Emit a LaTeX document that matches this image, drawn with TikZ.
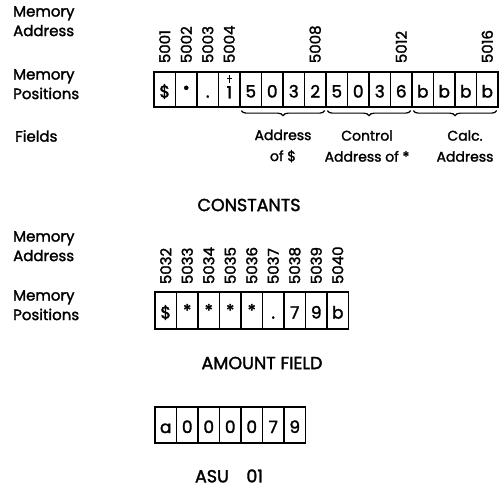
\documentclass[tikz,border=0pt]{standalone}
\usepackage{fontspec}
\setmainfont{Poppins}[FakeBold=1.8]
\usetikzlibrary{decorations.pathreplacing}
\begin{document}
\begin{tikzpicture}[x=1pt,y=-1pt,
  cell/.style={draw, line width=1.3pt, minimum width=21.5pt, minimum height=35pt, inner sep=0pt, text height=16pt, text depth=0pt, font=\fontsize{17}{17}\selectfont},
  addr/.style={rotate=90, anchor=west, inner sep=0pt, font=\fontsize{15}{15}\selectfont},
  lbl/.style={align=left, anchor=north west, inner sep=0pt, font=\fontsize{15}{19.5}\selectfont},
  fld/.style={align=center, inner sep=0pt, font=\fontsize{14}{21}\selectfont},
  ttl/.style={inner sep=0pt, font=\fontsize{17.5}{18}\selectfont},
  brc/.style={decorate, decoration={brace, mirror, amplitude=5pt}, line width=1.2pt}]
\useasboundingbox (0,0) rectangle (500,489);
% left labels
\node[lbl] (l1) at (13,6) {Memory\\Address};
\node[lbl] (l2) at (13,69) {Memory\\Positions};
\node[lbl] (l3) at (15,130) {Fields};
\node[lbl] (l4) at (13,231) {Memory\\Address};
\node[lbl] (l5) at (13,290) {Memory\\Positions};
% top row
\foreach \c [count=\i] in {\$,{\raisebox{4pt}{\textbullet}},.,{\raisebox{-1pt}{1}},5,0,3,2,5,0,3,6,b,b,b,b}
  \node[cell] (t\i) at ({154+(\i-0.5)*21.5},89.5) {\c};
\draw[line width=1.1pt] ([yshift=-4pt]t4.north) -- ([yshift=-12pt]t4.north);
\draw[line width=1.1pt] ([xshift=-2.5pt,yshift=-7pt]t4.north) -- ([xshift=2.5pt,yshift=-7pt]t4.north);
\foreach \i/\a in {1/5001,2/5002,3/5003,4/5004,8/5008,12/5012,16/5016}
  \node[addr] (ta\i) at ([yshift=8pt]t\i.north) {\a};
% braces
\draw[brc] ([xshift=2pt,yshift=-3pt]t5.south west) -- ([xshift=-2pt,yshift=-3pt]t8.south east);
\draw[brc] ([xshift=2pt,yshift=-3pt]t9.south west) -- ([xshift=-2pt,yshift=-3pt]t12.south east);
\draw[brc] ([xshift=2pt,yshift=-3pt]t13.south west) -- ([xshift=-2pt,yshift=-3pt]t16.south east);
\node[fld] (f1) at (283,146) {Address\\of \$};
\node[fld] (f2) at (367,146) {Control\\Address of *};
\node[fld] (f3) at (465,146) {Calc.\\Address};
\node[ttl] (c1) at (249,205) {CONSTANTS};
% second row
\foreach \c [count=\i] in {\$,{\raisebox{2pt}{*}},{\raisebox{2pt}{*}},{\raisebox{2pt}{*}},{\raisebox{2pt}{*}},.,7,9,b}
  \node[cell, minimum height=37pt] (m\i) at ({155+(\i-0.5)*21.5},310.5) {\c};
\foreach \i [evaluate=\i as \a using int(5031+\i)] in {1,...,9}
  \node[addr] (ma\i) at ([yshift=7pt]m\i.north) {\a};
\node[ttl] (c2) at (262,363) {AMOUNT FIELD};
% third row
\foreach \c [count=\i] in {a,0,0,0,0,7,9}
  \node[cell, minimum height=36pt] (s\i) at ({155+(\i-0.5)*21.5},425) {\c};
\node[ttl] (c3) at (229,476) {ASU\quad 01};
\end{tikzpicture}
\end{document}
